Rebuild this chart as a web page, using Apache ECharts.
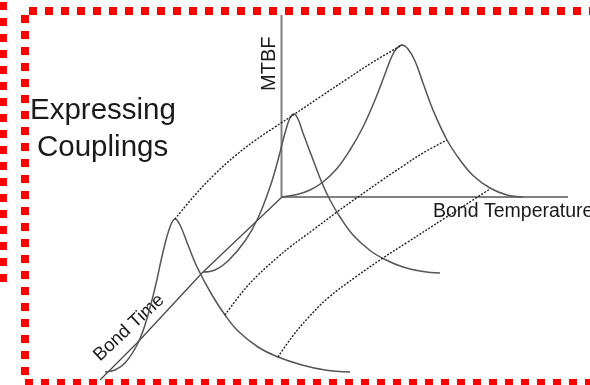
<!DOCTYPE html>
<html>
	<head>
		<meta charset="UTF-8">
		<title>Expressing Couplings</title>
		<style>
			html, body { margin: 0; padding: 0; background: #fff; overflow: hidden; }
		</style>
	</head>
	<body>
		<div id="main" style="width: 590px;height:385px;"></div>
		<script src="https://cdn.jsdelivr.net/npm/echarts@6/dist/echarts.min.js"></script>
		<script>
			var borderTop = [[29, 11], [590, 11]];
			var borderLeft = [[25, 15], [25, 380]];
			var borderBottom = [[25, 383], [590, 383]];
			var borderFarLeft = [[3.5, 2], [3.5, 282]];

			var axisMtbf = [[281.5, 15], [281.5, 197]];
			var axisTemp = [[281, 197], [568, 197]];
			var axisTime = [[282, 197], [202, 273], [137, 343], [100, 380]];

			var curveBack = [[282, 197], [297, 194.5], [310, 190], [323, 182], [337, 168.5], [350, 150], [363, 127], [375, 100], [385, 74], [392, 56], [397, 48], [402, 45], [408, 49], [415, 61], [423, 83], [433, 110], [447, 140], [460, 160], [473, 175.5], [490, 188], [507, 195], [523, 197]];
			var curveMiddle = [[203, 272], [215, 270], [228, 261], [245, 241], [258, 218], [270, 187], [278, 160], [285, 133], [290, 118], [294, 114], [298, 119], [303, 133], [312, 157], [322, 183], [330, 200], [340, 217], [353, 235], [370, 250.5], [385, 259.5], [403, 267], [423, 271.5], [440, 273]];
			var curveFront = [[105, 372], [115, 370], [125, 363], [137, 345], [145, 325], [155, 288], [163, 252], [170, 227], [175, 219], [180, 225], [188, 245], [197, 267], [212, 295], [225, 315], [238, 331], [258, 347], [278, 357], [302, 365], [325, 370], [350, 372]];

			var ridgeTop = [[175, 219], [195, 195], [215, 174], [235, 156], [255, 140.5], [275, 127], [294, 114.5], [320, 97], [347, 79], [373, 62], [402, 45]];
			var ridgeMiddle = [[225, 315], [242, 292.5], [258, 275], [278, 257], [290, 247], [313, 230], [337, 212], [358, 197], [380, 181.5], [403, 166], [423, 153], [447, 140]];
			var ridgeLower = [[278, 357], [292, 337], [308, 318], [328, 298], [357, 276], [383, 258], [407, 242.5], [445, 218], [473, 200], [490, 189]];

			function border(data, width) {
				return {
					type: 'line', data: data, symbol: 'none', silent: true, clip: false,
					lineStyle: { color: '#ff0000', width: width, type: [8, 8], cap: 'butt' }
				};
			}
			function solid(data, color, width, smooth) {
				return {
					type: 'line', data: data, symbol: 'none', silent: true, smooth: smooth || false,
					lineStyle: { color: color, width: width }
				};
			}
			function dotted(data) {
				return {
					type: 'line', data: data, symbol: 'none', silent: true, smooth: 0.4,
					lineStyle: { color: '#222', width: 1.4, type: [2, 1.5] }
				};
			}
			function text(str, x, y, size, rotation) {
				return {
					type: 'text', x: x, y: y, rotation: rotation || 0,
					style: { text: str, fill: '#1a1a1a', font: size + 'px "Liberation Sans", Arial, sans-serif', textVerticalAlign: 'bottom' }
				};
			}

			var chart = echarts.init(document.getElementById('main'));
			chart.setOption({
				animation: false,
				backgroundColor: '#fff',
				grid: { left: 0, right: 0, top: 0, bottom: 0 },
				xAxis: { type: 'value', min: 0, max: 590, show: false },
				yAxis: { type: 'value', min: 0, max: 385, inverse: true, show: false },
				series: [
					border(borderTop, 8),
					border(borderLeft, 8),
					border(borderBottom, 8),
					border(borderFarLeft, 7),
					solid(axisMtbf, '#808080', 2),
					solid(axisTemp, '#808080', 2),
					solid(axisTime, '#444', 1.2),
					solid(curveBack, '#555', 1.5, 0.4),
					solid(curveMiddle, '#555', 1.5, 0.4),
					solid(curveFront, '#555', 1.5, 0.4),
					dotted(ridgeTop),
					dotted(ridgeMiddle),
					dotted(ridgeLower)
				],
				graphic: [
					text('Expressing', 30, 126, 29.5),
					text('Couplings', 37, 163, 29.5),
					text('MTBF', 279, 91, 20, Math.PI / 2),
					text('Bond Time', 103, 365, 18.5, 0.75),
					text('Bond Temperature', 433, 222, 19.5)
				]
			});
		</script>
	</body>
</html>
